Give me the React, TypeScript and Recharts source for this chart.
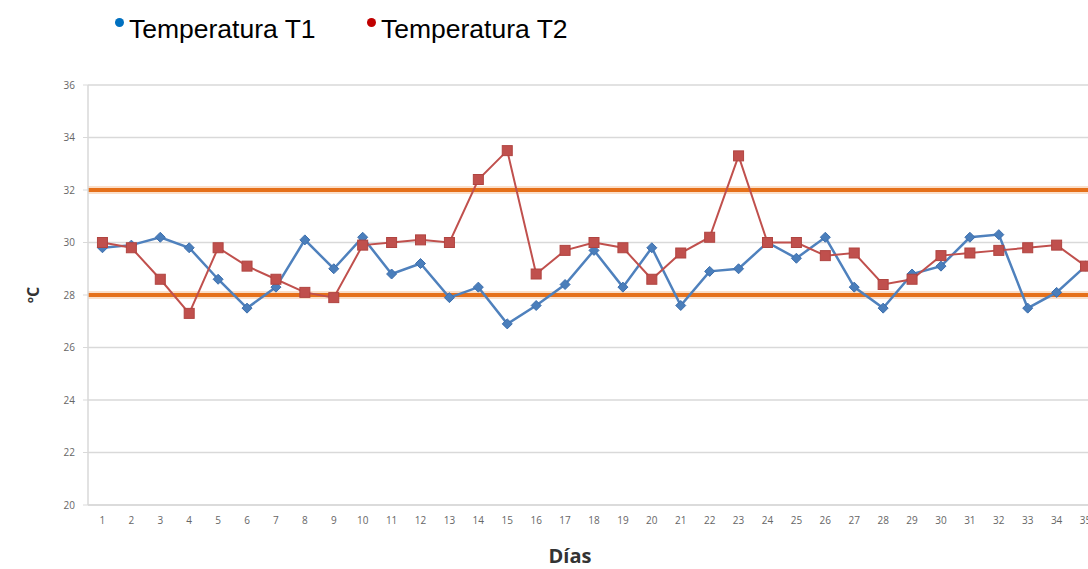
import React from 'react';
import {
  LineChart, Line, XAxis, YAxis, CartesianGrid, ReferenceLine
} from 'recharts';

// Days 1..35
const days = [
  1, 2, 3, 4, 5, 6, 7, 8, 9, 10, 11, 12, 13, 14, 15, 16, 17, 18,
  19, 20, 21, 22, 23, 24, 25, 26, 27, 28, 29, 30, 31, 32, 33, 34, 35,
];

const t1 = [
  29.8, 29.9, 30.2, 29.8, 28.6, 27.5, 28.3, 30.1, 29.0, 30.2, 28.8, 29.2,
  27.9, 28.3, 26.9, 27.6, 28.4, 29.7, 28.3, 29.8, 27.6, 28.9, 29.0, 30.0,
  29.4, 30.2, 28.3, 27.5, 28.8, 29.1, 30.2, 30.3, 27.5, 28.1, 29.1,
];

const t2 = [
  30.0, 29.8, 28.6, 27.3, 29.8, 29.1, 28.6, 28.1, 27.9, 29.9, 30.0, 30.1,
  30.0, 32.4, 33.5, 28.8, 29.7, 30.0, 29.8, 28.6, 29.6, 30.2, 33.3, 30.0,
  30.0, 29.5, 29.6, 28.4, 28.6, 29.5, 29.6, 29.7, 29.8, 29.9, 29.1,
];

const yTicks = [20, 22, 24, 26, 28, 30, 32, 34, 36];
const limits = [28, 32];

const data = days.map((d, i) => ({ day: d, t1: t1[i], t2: t2[i] }));

const BLUE = '#4F81BD';
const RED = '#C0504D';
const ORANGE = '#E5701A';

const Diamond = (props: any) => {
  const { cx, cy } = props;
  if (cx == null || cy == null) return null;
  const r = 5;
  return (
    <path
      d={`M${cx},${cy - r} L${cx + r},${cy} L${cx},${cy + r} L${cx - r},${cy} Z`}
      fill="#4A7EBB"
      stroke="#3D6FAD"
      strokeWidth={1}
    />
  );
};

const Square = (props: any) => {
  const { cx, cy } = props;
  if (cx == null || cy == null) return null;
  const r = 5;
  return (
    <rect x={cx - r} y={cy - r} width={r * 2} height={r * 2} fill={RED} stroke="#B04440" strokeWidth={1} />
  );
};

const legendItems = [
  { name: 'Temperatura T1', color: '#0070C0', left: 115 },
  { name: 'Temperatura T2', color: '#C00000', left: 367 },
];

export default function App() {
  return (
    <div style={{ position: 'absolute', left: 0, top: 0, width: 1088, height: 569, overflow: 'hidden', background: '#fff' }}>
      {legendItems.map((it) => (
        <div
          key={it.name}
          style={{
            position: 'absolute', left: it.left, top: 13, display: 'flex', alignItems: 'flex-start',
            fontFamily: '"Liberation Sans", Arial, sans-serif', fontSize: 26.5, color: '#000', lineHeight: '32px',
          }}
        >
          <span style={{ width: 9, height: 9, borderRadius: '50%', background: it.color, marginTop: 5, marginRight: 5 }} />
          <span>{it.name}</span>
        </div>
      ))}
      <LineChart
        width={1120}
        height={569}
        data={data}
        margin={{ top: 85, right: 20, left: 28, bottom: 0 }}
      >
        <CartesianGrid vertical={false} stroke="#D9D9D9" strokeWidth={1.5} />
        <XAxis
          dataKey="day"
          scale="band"
          height={64}
          axisLine={{ stroke: '#D9D9D9', strokeWidth: 1.5 }}
          tickLine={false}
          tickMargin={6}
          interval={0}
          tick={{ fill: '#666', fontSize: 10, fontFamily: '"Open Sans", sans-serif' }}
          label={{
            content: (p: any) => {
              const vb = p.viewBox;
              return (
                <text
                  x={vb.x + vb.width / 2 - 24}
                  y={vb.y + 58}
                  textAnchor="middle"
                  fontFamily='"Open Sans", sans-serif'
                  fontWeight={700}
                  fontSize={20}
                  fill="#333"
                >
                  Días
                </text>
              );
            },
          }}
        />
        <YAxis
          width={60}
          domain={[20, 36]}
          ticks={yTicks}
          interval={0}
          axisLine={{ stroke: '#D9D9D9', strokeWidth: 1.5 }}
          tickLine={{ stroke: '#D9D9D9' }}
          tickSize={5}
          tickMargin={8}
          tick={{ fill: '#666', fontSize: 10, fontFamily: '"Open Sans", sans-serif' }}
          label={{
            content: (p: any) => {
              const vb = p.viewBox;
              const cy = vb.y + vb.height / 2;
              return (
                <text
                  x={33}
                  y={cy}
                  transform={`rotate(-90, 33, ${cy})`}
                  textAnchor="middle"
                  dominantBaseline="central"
                  fontFamily='"Open Sans", sans-serif'
                  fontWeight={700}
                  fontSize={16}
                  fill="#333"
                >
                  ºC
                </text>
              );
            },
          }}
        />
        {limits.map((v) => (
          <ReferenceLine key={`halo-${v}`} y={v} stroke="#F5B98A" strokeWidth={8} strokeOpacity={0.45} />
        ))}
        {limits.map((v) => (
          <ReferenceLine key={`lim-${v}`} y={v} stroke={ORANGE} strokeWidth={4} />
        ))}
        <Line
          type="linear"
          dataKey="t1"
          stroke={BLUE}
          strokeWidth={2.5}
          dot={<Diamond />}
          isAnimationActive={false}
        />
        <Line
          type="linear"
          dataKey="t2"
          stroke={RED}
          strokeWidth={2}
          dot={<Square />}
          isAnimationActive={false}
        />
      </LineChart>
    </div>
  );
}
